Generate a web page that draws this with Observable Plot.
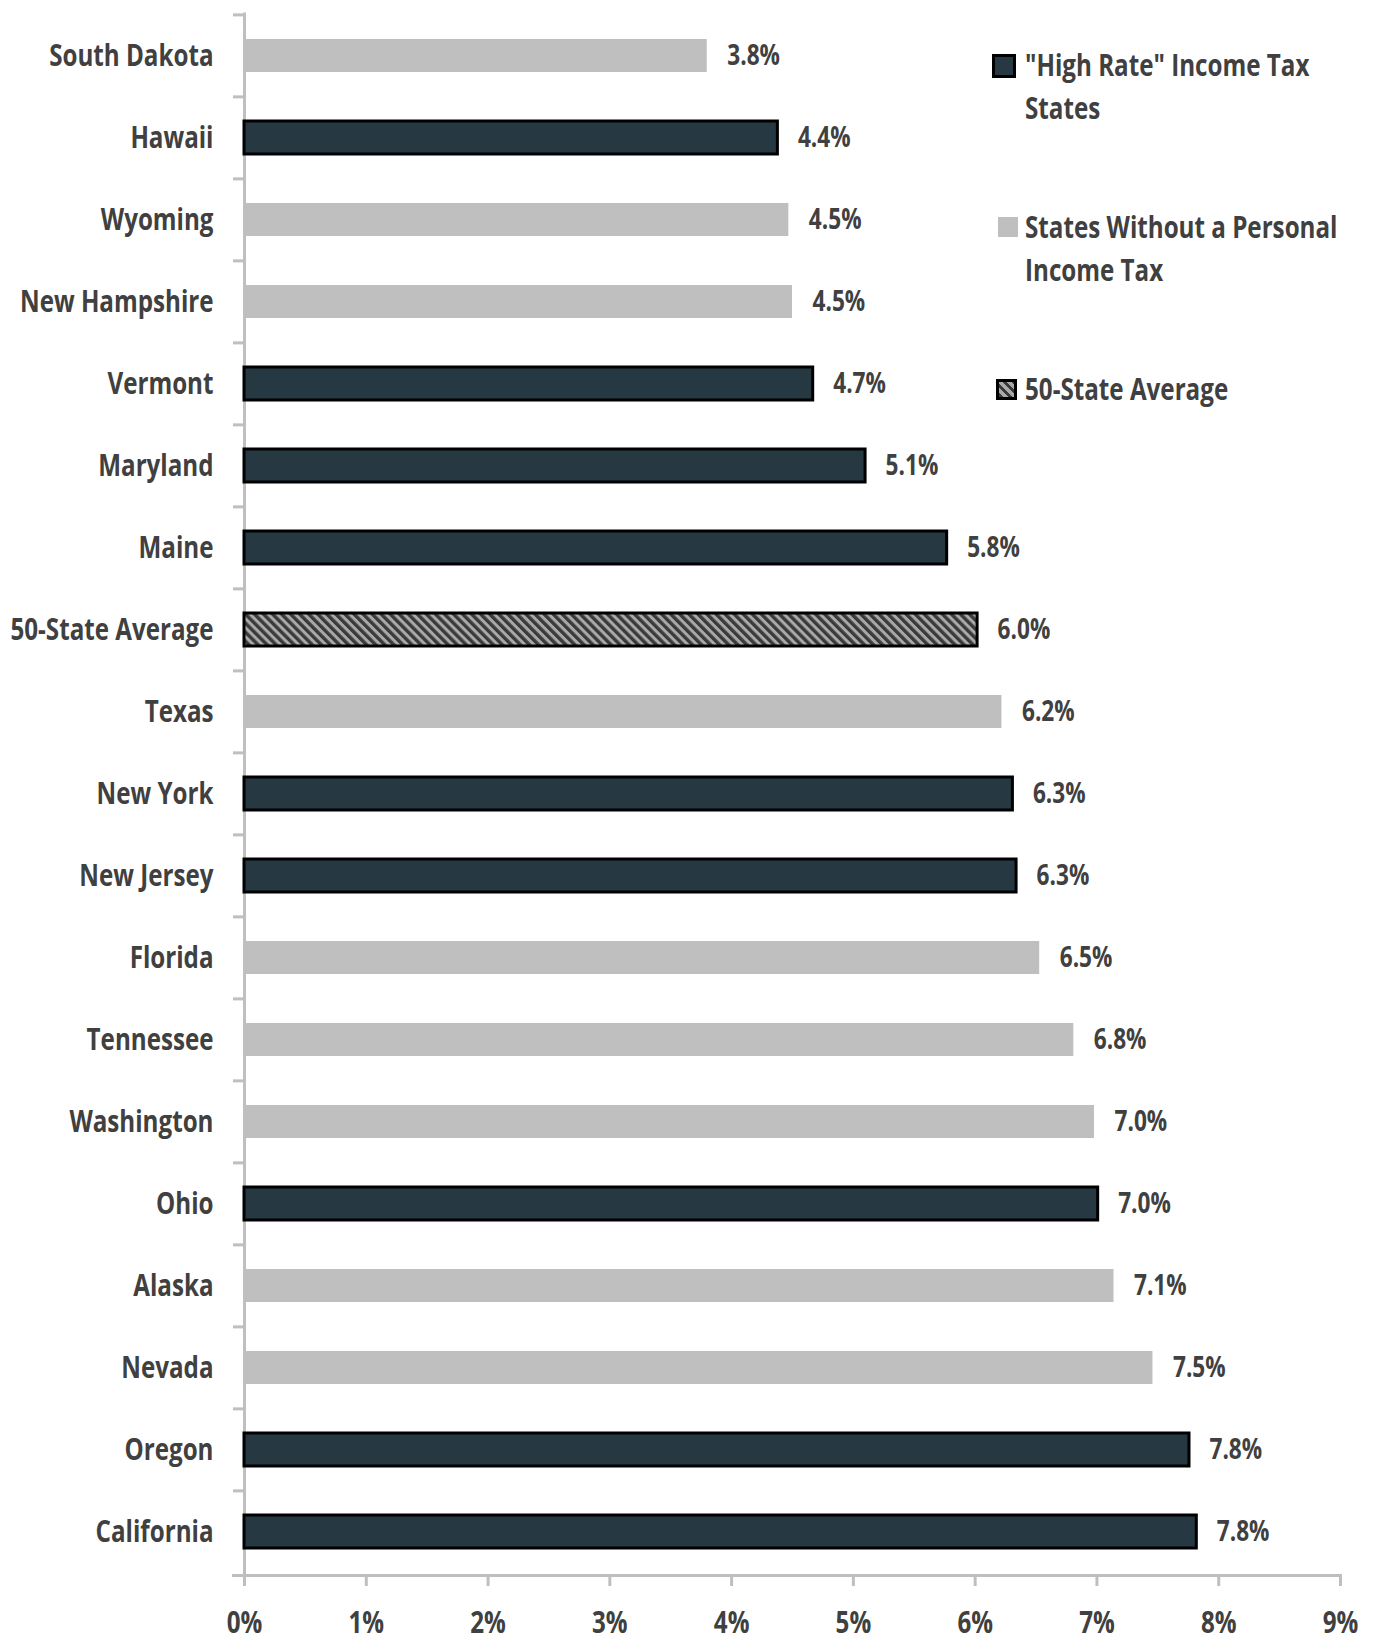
<!DOCTYPE html>
<html>
<head>
<meta charset="utf-8">
<script src="https://cdn.jsdelivr.net/npm/d3@7"></script>
<script src="https://cdn.jsdelivr.net/npm/@observablehq/plot@0.6"></script>
<style>
  html, body { margin: 0; padding: 0; background: #fff; }
  #wrap { position: relative; width: 1377px; height: 1641px; }
  .font { font-family: "Open Sans", "Noto Sans", sans-serif; font-weight: bold; color: #404040; }
  #legend { position: absolute; left: 0; top: 0; }
  .item { position: absolute; font-size: 31px; line-height: 43px; white-space: nowrap; transform-origin: 0 0; }
  .sw { position: absolute; box-sizing: border-box; }
</style>
</head>
<body>
<div id="wrap" class="font">
  <div id="chart"></div>
  <div id="legend"></div>
</div>
<script>
// ---- data ----
const states = ["South Dakota", "Hawaii", "Wyoming", "New Hampshire", "Vermont", "Maryland", "Maine",
  "50-State Average", "Texas", "New York", "New Jersey", "Florida", "Tennessee", "Washington", "Ohio",
  "Alaska", "Nevada", "Oregon", "California"];
const values = [3.80, 4.38, 4.47, 4.50, 4.67, 5.10, 5.77, 6.02, 6.22, 6.31, 6.34, 6.53, 6.81, 6.98, 7.01,
  7.14, 7.46, 7.76, 7.82];
const groups = ["notax", "high", "notax", "notax", "high", "high", "high", "avg", "notax", "high", "high",
  "notax", "notax", "notax", "high", "notax", "notax", "high", "high"];
const groupKeys = ["high", "notax", "avg"];
const legendLines = [["\"High Rate\"  Income Tax", "States"], ["States Without a Personal", "Income Tax"], ["50-State Average"]];
const xTicks = [0, 1, 2, 3, 4, 5, 6, 7, 8, 9];

const rows = states.map((s, i) => ({state: s, value: values[i], group: groups[i]}));

// ---- layout ----
const W = 1377, H = 1641;
const mL = 244, mR = 37, mT = 12.5, mB = 66;
const step = (H - mT - mB) / states.length;
const fontFam = '"Open Sans", "Noto Sans", sans-serif';
const textCol = "#404040";
const axisCol = "#bfbfbf";
const squeeze = 0.78;

const chart = Plot.plot({
  width: W,
  height: H,
  marginLeft: mL,
  marginRight: mR,
  marginTop: mT,
  marginBottom: mB,
  style: {fontFamily: fontFam, fontWeight: "bold", color: textCol, background: "#fff"},
  x: {domain: [0, 9]},
  y: {domain: states, paddingInner: 0.6, paddingOuter: 0.3},
  color: {type: "ordinal", domain: groupKeys, range: ["#263842", "#bfbfbf", "url(#hatch)"]},
  marks: [
    Plot.ruleX([0], {stroke: axisCol, strokeWidth: 3}),
    Plot.frame({anchor: "bottom", stroke: axisCol, strokeWidth: 3, insetLeft: -11}),
    Plot.axisY({tickSize: 11, tickFormat: () => "", stroke: axisCol, strokeWidth: 3, dy: -step / 2, label: null}),
    Plot.axisY({tickSize: 0, tickPadding: 31, fontSize: 31, fill: textCol, label: null}),
    Plot.axisX({ticks: xTicks, tickSize: 11, tickPadding: 24, stroke: axisCol, strokeWidth: 3,
      fontSize: 31, fill: textCol, tickFormat: d => d + "%", label: null}),
    Plot.barX(rows.filter(d => d.group === "notax"), {x: "value", y: "state", fill: "group"}),
    Plot.barX(rows.filter(d => d.group !== "notax"), {x: "value", y: "state", fill: "group",
      stroke: "#000", strokeWidth: 3}),
    Plot.text(rows, {x: "value", y: "state", text: d => d.value.toFixed(1) + "%", dx: 20,
      textAnchor: "start", fontSize: 29, fill: textCol})
  ]
});
document.getElementById("chart").appendChild(chart);

const svg = d3.select(chart);
// condense all texts horizontally around their anchor
svg.selectAll("text").each(function() {
  const t = this.getAttribute("transform");
  if (t) this.setAttribute("transform", t + ` scale(${squeeze},1)`);
  else {
    const x = +this.getAttribute("x") || 0, y = +this.getAttribute("y") || 0;
    this.setAttribute("transform", `translate(${x},${y}) scale(${squeeze},1) translate(${-x},${-y})`);
  }
});

// hatch pattern
const defs = svg.insert("defs", ":first-child");
const pat = defs.append("pattern").attr("id", "hatch").attr("patternUnits", "userSpaceOnUse")
  .attr("width", 6.4).attr("height", 6.4).attr("patternTransform", "rotate(-45)");
pat.append("rect").attr("width", 6.4).attr("height", 6.4).attr("fill", "#a9a9a9");
pat.append("rect").attr("width", 3.4).attr("height", 6.4).attr("fill", "#3a3a3a");

// ---- legend (HTML overlay) ----
const leg = d3.select("#legend");
const legPos = [
  {top: 43, sw: {left: 992, top: 54, size: 24, border: "3px solid #000"}},
  {top: 205, sw: {left: 998, top: 217, size: 20, border: "none"}},
  {top: 367, sw: {left: 996, top: 379, size: 21, border: "3px solid #000"}}
];
const swFill = ["#263842", "#bfbfbf",
  "repeating-linear-gradient(45deg, #3a3a3a 0px, #3a3a3a 3.4px, #a9a9a9 3.4px, #a9a9a9 6.4px)"];
groupKeys.forEach((k, i) => {
  const p = legPos[i];
  leg.append("div").attr("class", "sw")
    .style("left", p.sw.left + "px").style("top", p.sw.top + "px")
    .style("width", p.sw.size + "px").style("height", p.sw.size + "px")
    .style("border", p.sw.border).style("background", swFill[i]);
  leg.append("div").attr("class", "item")
    .style("left", "1025px").style("top", p.top + "px")
    .style("transform", `scaleX(${squeeze})`)
    .html(legendLines[i].join("<br>"));
});
</script>
</body>
</html>
